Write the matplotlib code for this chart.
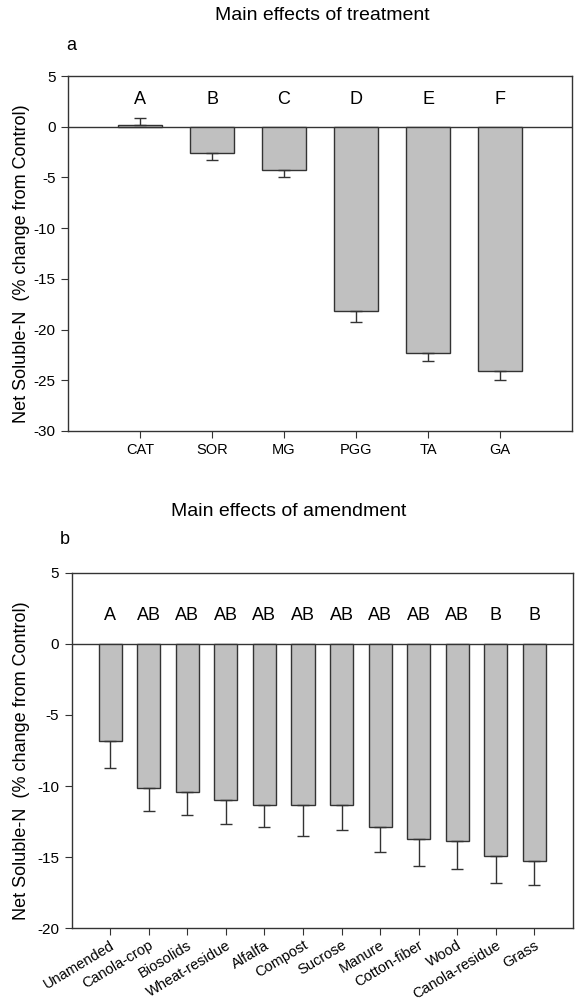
import matplotlib
matplotlib.use("Agg")
import matplotlib.pyplot as plt
import numpy as np

plt.rcParams["font.family"] = ["Liberation Sans", "DejaVu Sans"]
plt.rcParams["axes.unicode_minus"] = False

# panel a: treatment
treatments = ["CAT", "SOR", "MG", "PGG", "TA", "GA"]
treat_mean = [0.2, -2.6, -4.3, -18.2, -22.3, -24.05]
treat_se = [0.7, 0.65, 0.7, 1.05, 0.82, 0.9]
treat_letters = ["A", "B", "C", "D", "E", "F"]

# panel b: amendment
amendments = ["Unamended", "Canola-crop", "Biosolids", "Wheat-residue", "Alfalfa",
              "Compost", "Sucrose", "Manure", "Cotton-fiber", "Wood",
              "Canola-residue", "Grass"]
amend_mean = [-6.8, -10.15, -10.4, -10.95, -11.3, -11.3, -11.3, -12.9, -13.7, -13.85,
              -14.9, -15.25]
amend_se = [1.9, 1.57, 1.6, 1.69, 1.6, 2.2, 1.8, 1.74, 1.9, 2.0, 1.92, 1.69]
amend_letters = ["A", "AB", "AB", "AB", "AB", "AB", "AB", "AB", "AB", "AB", "B", "B"]

ylab = "Net Soluble-N  (% change from Control)"
bar_color = "#c0c0c0"
edge = "#333333"

fig = plt.figure(figsize=(5.87, 10), dpi=100)


def draw_panel(ax, names, means, errs, letters, ylim, ystep, letter_y, rot):
    x = np.arange(1, len(names) + 1)
    ax.bar(x, means, 0.6, color=bar_color, edgecolor=edge, linewidth=1.0, zorder=2)
    # one-sided error bars (away from zero)
    m = np.array(means)
    e = np.array(errs)
    lower = np.where(m < 0, e, 0)
    upper = np.where(m >= 0, e, 0)
    ax.errorbar(x, m, yerr=[lower, upper], fmt="none", ecolor=edge, elinewidth=1.0,
                capsize=4, capthick=1.0, zorder=3)
    ax.axhline(0, color=edge, linewidth=1.0, zorder=1)
    for xi, lt in zip(x, letters):
        ax.text(xi, letter_y, lt, ha="center", va="center", fontsize=13)
    ax.set_xlim(0, len(names) + 1)
    ax.set_ylim(*ylim)
    ax.set_yticks(np.arange(ylim[0], ylim[1] + 0.1, ystep))
    ax.set_xticks(x)
    if rot:
        ax.set_xticklabels(names, rotation=31, ha="right", rotation_mode="anchor", fontsize=10.5)
        ax.tick_params(axis="x", pad=2)
    else:
        ax.set_xticklabels(names, fontsize=10.5)
    ax.tick_params(axis="y", labelsize=11, direction="out", length=5, color=edge, pad=4)
    ax.tick_params(axis="x", direction="out", length=5, color=edge)
    for s in ax.spines.values():
        s.set_color(edge)
        s.set_linewidth(1.0)
    ax.set_ylabel(ylab, fontsize=13)


ax1 = fig.add_axes([68 / 587, 0.569, 504 / 587, 0.355])
draw_panel(ax1, treatments, treat_mean, treat_se, treat_letters, (-30, 5), 5, 2.7, False)
ax1.yaxis.set_label_coords(-0.076, 0.47)

ax2 = fig.add_axes([71.5 / 587, 0.0717, 501.5 / 587, 0.3556])
draw_panel(ax2, amendments, amend_mean, amend_se, amend_letters, (-20, 5), 5, 2.0, True)
ax2.yaxis.set_label_coords(-0.082, 0.47)

fig.text(322 / 587, 1 - 15 / 1000, "Main effects of treatment", ha="center", va="center", fontsize=14)
fig.text(66 / 587, 1 - 45 / 1000, "a", ha="left", va="center", fontsize=13)
fig.text(289 / 587, 1 - 511 / 1000, "Main effects of amendment", ha="center", va="center", fontsize=14)
fig.text(60 / 587, 1 - 539 / 1000, "b", ha="left", va="center", fontsize=13)

fig.savefig("out.png", dpi=100)
